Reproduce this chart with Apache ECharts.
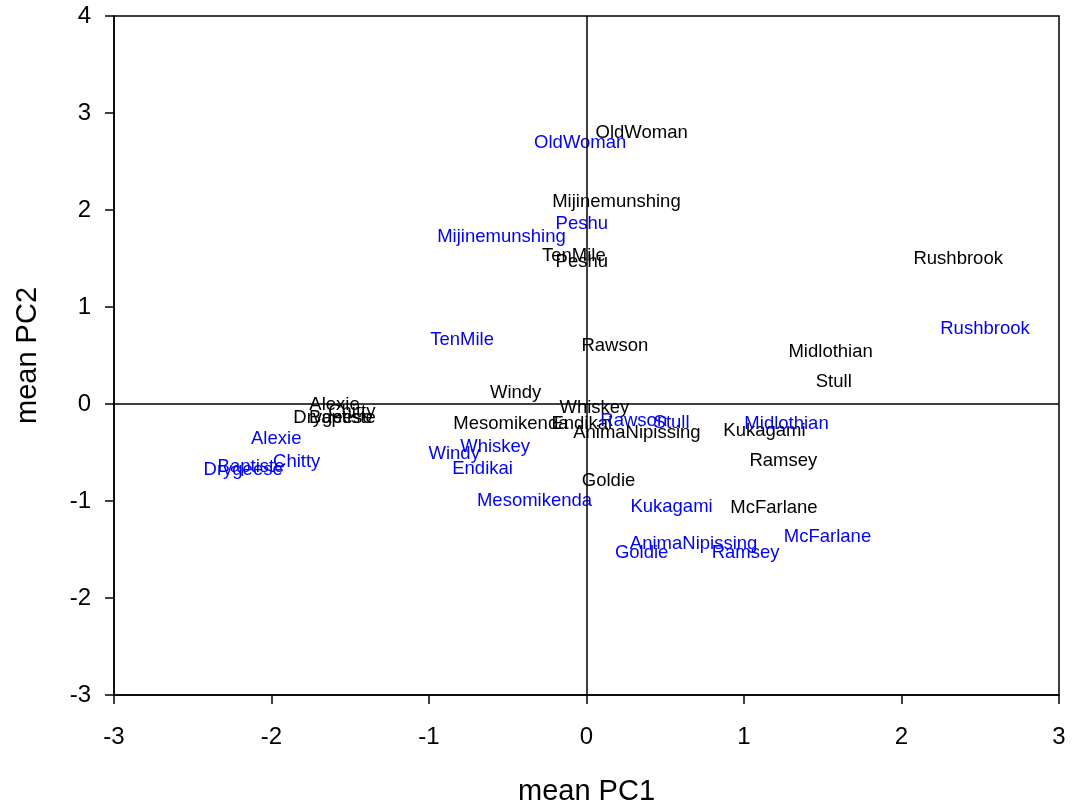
<!DOCTYPE html>
<html>
<head>
<meta charset="utf-8">
<script src="https://cdn.jsdelivr.net/npm/echarts@6/dist/echarts.min.js"></script>
<style>
  html, body { margin: 0; padding: 0; background: #fff; overflow: hidden; }
  #chart { width: 1079px; height: 806px; }
</style>
</head>
<body>
<div id="chart"></div>
<script>
// Site names shared by both groups
const sites = ['OldWoman', 'Mijinemunshing', 'TenMile', 'Peshu', 'Rushbrook', 'Rawson',
  'Midlothian', 'Stull', 'Windy', 'Whiskey', 'Mesomikenda', 'Endikai', 'AnimaNipissing',
  'Kukagami', 'Ramsey', 'Goldie', 'McFarlane', 'Alexie', 'Chitty', 'Drygeese', 'Baptiste'];

// Group 1 (black) mean PC scores
const blackPC1 = [0.35, 0.19, -0.08, -0.03, 2.36, 0.18, 1.55, 1.57, -0.45, 0.05, -0.48, -0.03, 0.32,
  1.13, 1.25, 0.14, 1.19, -1.60, -1.49, -1.61, -1.55];
const blackPC2 = [2.79, 2.08, 1.53, 1.46, 1.50, 0.60, 0.54, 0.23, 0.11, -0.04, -0.21, -0.21, -0.30,
  -0.28, -0.59, -0.79, -1.07, -0.01, -0.08, -0.14, -0.14];

// Group 2 (blue) mean PC scores
const bluePC1 = [-0.04, -0.54, -0.79, -0.03, 2.53, 0.30, 1.27, 0.54, -0.84, -0.58, -0.33, -0.66, 0.68,
  0.54, 1.01, 0.35, 1.53, -1.97, -1.84, -2.18, -2.13];
const bluePC2 = [2.69, 1.72, 0.66, 1.86, 0.77, -0.17, -0.21, -0.19, -0.51, -0.44, -1.00, -0.67, -1.44,
  -1.06, -1.54, -1.53, -1.37, -0.36, -0.60, -0.68, -0.65];

const xTicks = [-3, -2, -1, 0, 1, 2, 3];
const yTicks = [-3, -2, -1, 0, 1, 2, 3, 4];

const FONT = 'Liberation Sans, Arial, sans-serif';

function points(xs, ys) {
  return sites.map((n, i) => [xs[i], ys[i], n]);
}

// Invisible points carrying the site name as a centred label
function labelSeries(xs, ys, color) {
  return {
    type: 'scatter',
    data: points(xs, ys),
    symbolSize: 1,
    itemStyle: { color: 'rgba(0,0,0,0)', opacity: 1 },
    label: {
      show: true,
      position: 'inside',
      offset: [0, 4],
      formatter: p => p.data[2],
      color: color,
      opacity: 1,
      fontFamily: FONT,
      fontSize: 18.5
    },
    labelLayout: { hideOverlap: false },
    emphasis: { disabled: true },
    silent: true,
    z: 3
  };
}

const chart = echarts.init(document.getElementById('chart'), null, { renderer: 'canvas' });

const axisCommon = {
  axisLine: { show: true, onZero: false, lineStyle: { color: '#000', width: 1.5 } },
  axisTick: { show: true, inside: false, length: 9, lineStyle: { color: '#000', width: 1.5 } },
  splitLine: { show: false },
  nameTextStyle: { fontFamily: FONT, fontSize: 29, color: '#000' },
  axisLabel: { fontFamily: FONT, fontSize: 24, color: '#000' }
};

chart.setOption({
  animation: false,
  backgroundColor: '#fff',
  grid: {
    left: 114, right: 20, top: 16, bottom: 111,
    containLabel: false,
    outerBoundsMode: 'none',
    show: true, borderColor: '#000', borderWidth: 1.5, backgroundColor: 'transparent'
  },
  xAxis: Object.assign({}, axisCommon, {
    type: 'value', min: xTicks[0], max: xTicks[xTicks.length - 1], interval: 1,
    name: 'mean PC1', nameLocation: 'middle', nameGap: 82,
    axisLabel: Object.assign({}, axisCommon.axisLabel, { margin: 30 })
  }),
  yAxis: Object.assign({}, axisCommon, {
    type: 'value', min: yTicks[0], max: yTicks[yTicks.length - 1], interval: 1,
    name: 'mean PC2', nameLocation: 'middle', nameGap: 72,
    axisLabel: Object.assign({}, axisCommon.axisLabel, { margin: 23 })
  }),
  series: [
    {
      type: 'scatter',
      data: [],
      silent: true,
      markLine: {
        silent: true,
        symbol: 'none',
        label: { show: false },
        lineStyle: { color: '#000', width: 1.5, type: 'solid' },
        data: [{ xAxis: 0 }, { yAxis: 0 }]
      },
      z: 1
    },
    labelSeries(blackPC1, blackPC2, '#000'),
    labelSeries(bluePC1, bluePC2, '#0000ff')
  ]
});
</script>
</body>
</html>
